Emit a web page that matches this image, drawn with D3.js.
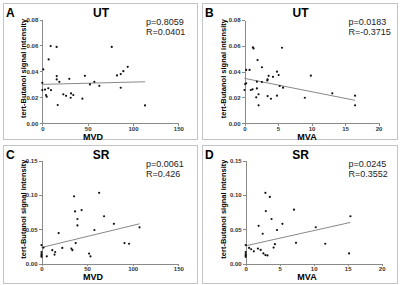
<!DOCTYPE html>
<html lang="en">
  <head>
    <meta charset="UTF-8" />
    <title>tert-Butanol signal intensity</title>
    <style>
      body {
        margin: 0;
        background: #fff;
      }
      svg text {
        font-family: "Liberation Sans", Arial, sans-serif;
      }
      .axis path,
      .axis line {
        fill: none;
        stroke: #8a8a8a;
        stroke-width: 1;
        shape-rendering: crispEdges;
      }
      .axis text {
        font-size: 6px;
        font-weight: bold;
        fill: #333;
      }
    </style>
  </head>
  <body>
    <div class="chart"></div>

    <script src="https://d3js.org/d3.v7.min.js"></script>

    <script>
      // 資料：[x, tert-Butanol signal intensity]
      const utMvd = [
        [1.1, 0.0415], [9.2, 0.0595], [15.8, 0.0589], [7, 0.0492], [0, 0.0312],
        [15.9, 0.0364], [15.9, 0.0338], [18.8, 0.032], [29.8, 0.0343], [47, 0.0366],
        [52.6, 0.03], [57.4, 0.032], [62.9, 0.0289], [0, 0.0256], [3, 0.026],
        [6.6, 0.027], [9.6, 0.0256], [4.1, 0.0218], [4.8, 0.0205], [17, 0.0141],
        [23.2, 0.0223], [26.2, 0.0212], [31.3, 0.0197], [31.7, 0.023], [34.2, 0.0218],
        [44.2, 0.019], [76.6, 0.0589], [94.2, 0.0435], [89.4, 0.0402], [86.5, 0.0379],
        [82.4, 0.0369], [86.5, 0.0274], [113.3, 0.0138],
      ];
      const utMva = [
        [1.25, 0.0588], [1.35, 0.058], [5.6, 0.0585], [1.95, 0.049], [0.25, 0.0413],
        [0.75, 0.0413], [2.6, 0.0434], [0.1, 0.0304], [0.25, 0.031], [0, 0.0258],
        [0.95, 0.0258], [1.2, 0.0263], [1.85, 0.0322], [1.85, 0.027], [2.6, 0.032],
        [3.45, 0.034], [3.4, 0.0332], [3.6, 0.0368], [4.25, 0.036], [4.85, 0.04],
        [5.1, 0.0374], [5.25, 0.0289], [5.75, 0.0276], [1.75, 0.0201], [2.1, 0.0225],
        [2.1, 0.0139], [3.45, 0.0211], [3.95, 0.019], [4.85, 0.0214], [9.9, 0.0369],
        [9.0, 0.0198], [13.1, 0.0232], [16.5, 0.0214], [16.5, 0.0139],
      ];
      const srMvd = [
        [35.7, 0.098], [63.2, 0.103], [36.8, 0.076], [44, 0.078], [39.4, 0.065],
        [68.6, 0.069], [39.4, 0.0556], [79.4, 0.058], [58, 0.049], [18.8, 0.0445],
        [37.5, 0.03], [0, 0.027], [2.2, 0.0235], [0, 0.017], [0, 0.014],
        [0, 0.012], [0, 0.01], [5.8, 0.0107], [11.8, 0.0196], [15, 0.017],
        [14.3, 0.0132], [22.8, 0.023], [32.8, 0.022], [33.9, 0.0196], [52.2, 0.0147],
        [53.7, 0.0107], [91, 0.03], [96, 0.029], [107.5, 0.0528],
      ];
      const srMva = [
        [2.9, 0.103], [3.55, 0.097], [2.96, 0.0765], [3.8, 0.065], [1.9, 0.055],
        [5.4, 0.058], [4.6, 0.049], [2.5, 0.0435], [7.1, 0.0785], [7.4, 0.0303],
        [4.3, 0.0284], [4.1, 0.0235], [10.3, 0.053], [15.4, 0.069], [11.7, 0.029],
        [15.2, 0.015], [0, 0.027], [0, 0.017], [0, 0.014], [0, 0.012],
        [0, 0.01], [0.5, 0.023], [0.8, 0.021], [1.2, 0.018], [1.8, 0.022],
        [2.2, 0.02], [2.6, 0.015], [2.9, 0.0125], [3.2, 0.012],
      ];

      // 迴歸線兩端點
      const fitUtMvd = [[0, 0.03], [113.3, 0.032]];
      const fitUtMva = [[0, 0.0348], [16.5, 0.0178]];
      const fitSrMvd = [[0, 0.0235], [107.5, 0.058]];
      const fitSrMva = [[0, 0.026], [15.4, 0.06]];

      const mvdTicks = [0, 50, 100, 150];
      const mvaTicks = [0, 5, 10, 15, 20];
      const utTicks = [0, 0.02, 0.04, 0.06, 0.08];
      const srTicks = [0, 0.05, 0.1, 0.15];

      const panels = [
        { letter: "A", title: "UT", xLabel: "MVD", p: "p=0.8059", r: "R=0.0401",
          data: utMvd, fit: fitUtMvd, xTicks: mvdTicks, yTicks: utTicks },
        { letter: "B", title: "UT", xLabel: "MVA", p: "p=0.0183", r: "R=-0.3715",
          data: utMva, fit: fitUtMva, xTicks: mvaTicks, yTicks: utTicks },
        { letter: "C", title: "SR", xLabel: "MVD", p: "p=0.0061", r: "R=0.426",
          data: srMvd, fit: fitSrMvd, xTicks: mvdTicks, yTicks: srTicks },
        { letter: "D", title: "SR", xLabel: "MVA", p: "p=0.0245", r: "R=0.3552",
          data: srMva, fit: fitSrMva, xTicks: mvaTicks, yTicks: srTicks },
      ];

      // 版面位置（每個小圖的框與繪圖區）
      const layout = [
        { box: [3, 3, 194, 136], x: [42.3, 178.3], y: [123.3, 19.5], ylab: 23, xlab: 93 },
        { box: [202, 3, 195, 136], x: [244.5, 378.5], y: [123.3, 20], ylab: 223, xlab: 307 },
        { box: [3, 145, 194, 138], x: [41.5, 178.3], y: [263.7, 160.5], ylab: 23, xlab: 93 },
        { box: [202, 145, 195, 138], x: [245.7, 381.7], y: [263.7, 160.5], ylab: 223, xlab: 307 },
      ];

      const svg = d3
        .select(".chart")
        .append("svg")
        .attr("width", 400)
        .attr("height", 285);

      svg.append("rect").attr("width", 400).attr("height", 285).attr("fill", "#fff");

      panels.forEach((p, i) => {
        const L = layout[i];
        const g = svg.append("g");
        const [bx, by, bw, bh] = L.box;

        g.append("rect")
          .attr("x", bx + 0.5)
          .attr("y", by + 0.5)
          .attr("width", bw)
          .attr("height", bh)
          .attr("fill", "none")
          .attr("stroke", "#c4c4c4")
          .attr("stroke-width", 1);

        const xScale = d3
          .scaleLinear()
          .domain([p.xTicks[0], p.xTicks[p.xTicks.length - 1]])
          .range(L.x);
        const yScale = d3
          .scaleLinear()
          .domain([p.yTicks[0], p.yTicks[p.yTicks.length - 1]])
          .range(L.y);

        // X 軸
        g.append("g")
          .attr("class", "axis")
          .attr("transform", `translate(0, ${L.y[0]})`)
          .call(
            d3.axisBottom(xScale).tickValues(p.xTicks).tickSize(2.5).tickSizeOuter(0).tickPadding(1)
          );

        // Y 軸
        g.append("g")
          .attr("class", "axis")
          .attr("transform", `translate(${L.x[0]}, 0)`)
          .call(
            d3
              .axisLeft(yScale)
              .tickValues(p.yTicks)
              .tickFormat(d3.format(".2f"))
              .tickSize(2.5)
              .tickSizeOuter(0)
              .tickPadding(1.5)
          );

        // 迴歸線
        g.append("line")
          .attr("x1", xScale(p.fit[0][0]))
          .attr("y1", yScale(p.fit[0][1]))
          .attr("x2", xScale(p.fit[1][0]))
          .attr("y2", yScale(p.fit[1][1]))
          .attr("stroke", "#7a7a7a")
          .attr("stroke-width", 0.9);

        // 資料點
        g.append("g")
          .selectAll("circle")
          .data(p.data)
          .enter()
          .append("circle")
          .attr("cx", (d) => xScale(d[0]))
          .attr("cy", (d) => yScale(d[1]))
          .attr("r", 1.1)
          .attr("fill", "#111");

        // 文字
        g.append("text")
          .attr("x", bx + 3)
          .attr("y", by + 13.5)
          .style("font-size", "12px")
          .style("font-weight", "bold")
          .text(p.letter);

        g.append("text")
          .attr("x", bx + bw / 2 + 1)
          .attr("y", by + 14)
          .attr("text-anchor", "middle")
          .style("font-size", "12px")
          .style("font-weight", "bold")
          .text(p.title);

        const statX = i % 2 === 0 ? 146 : 348.5;
        g.append("text")
          .attr("x", statX)
          .attr("y", by + 22)
          .style("font-size", "9px")
          .style("fill", "#222")
          .text(p.p);
        g.append("text")
          .attr("x", statX)
          .attr("y", by + 31.5)
          .style("font-size", "9px")
          .style("fill", "#222")
          .text(p.r);

        // 軸標題
        const midY = (L.y[0] + L.y[1]) / 2 - 3;
        g.append("text")
          .attr("transform", `translate(${L.ylab + 3}, ${midY}) rotate(-90)`)
          .attr("text-anchor", "middle")
          .style("font-size", "7.5px")
          .style("font-weight", "bold")
          .text("tert-Butanol signal intensity");

        g.append("text")
          .attr("x", L.xlab)
          .attr("y", L.y[0] + 16.5)
          .attr("text-anchor", "middle")
          .style("font-size", "9px")
          .style("font-weight", "bold")
          .text(p.xLabel);
      });
    </script>
  </body>
</html>
